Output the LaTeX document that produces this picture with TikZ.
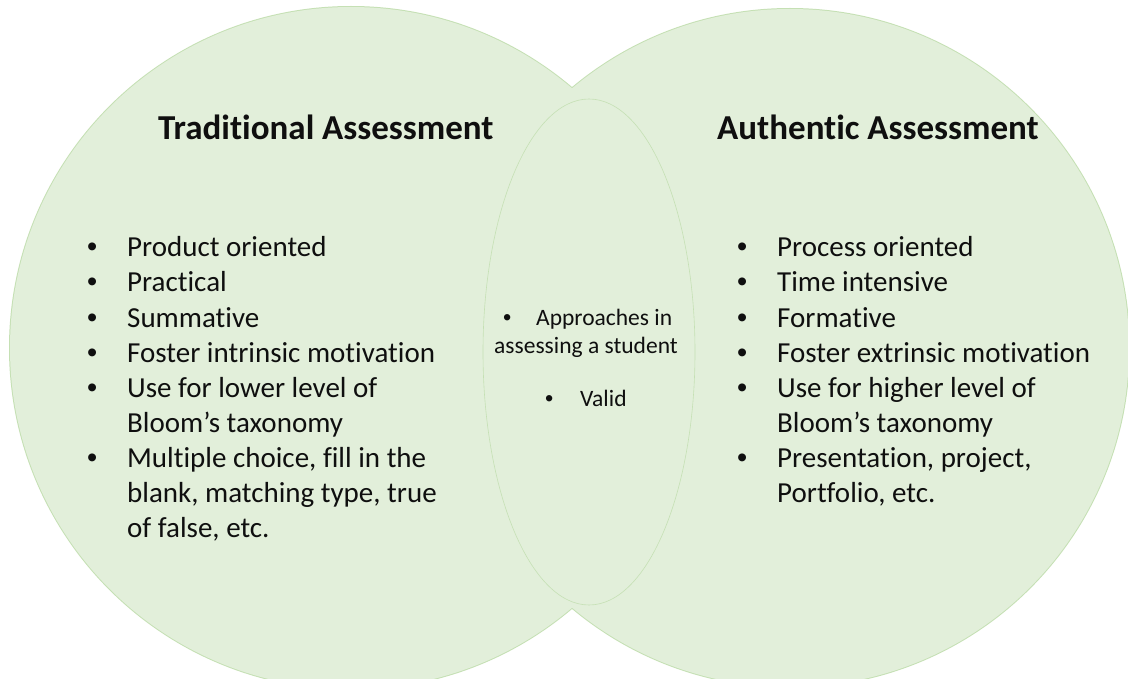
\documentclass[tikz,border=0pt]{standalone}
\usepackage{fontspec}
\setmainfont{Carlito}[Ligatures=NoCommon]
\newfontfamily\bulletfont{Liberation Sans}
\usetikzlibrary{shapes.geometric}
\definecolor{vfill}{RGB}{226,239,218}
\definecolor{vline}{RGB}{197,224,180}
\definecolor{vtext}{RGB}{15,15,15}
\tikzset{
  setborder/.style={draw=vline, line width=2pt},
  setfill/.style={fill=vfill},
  overlap/.style={draw=vline, line width=0.6pt, fill=vfill},
  titletext/.style={anchor=base west, inner sep=0pt, font=\fontsize{35}{42}\selectfont\bfseries, text=vtext},
  itemtext/.style={anchor=base west, inner sep=0pt, font=\fontsize{29}{35}\selectfont, text=vtext},
  bullettext/.style={anchor=base west, inner sep=0pt, font=\bulletfont\fontsize{29}{35}\selectfont, text=vtext},
  midtext/.style={anchor=base west, inner sep=0pt, font=\fontsize{23.5}{28}\selectfont, text=vtext},
  midbullet/.style={anchor=base west, inner sep=0pt, font=\bulletfont\fontsize{23.5}{28}\selectfont, text=vtext},
}
\begin{document}
\begin{tikzpicture}[x=1pt,y=-1pt]
\useasboundingbox (0,0) rectangle (1128,679);
\begin{scope}
\clip (0,0) rectangle (1128,679);
\fill[white] (0,0) rectangle (1128,679);
% outer borders first, then fills over them (hides inner arcs)
\draw[setborder] (351,348) circle[radius=341pt];
\draw[setborder] (790,348) circle[radius=339pt];
\node[setfill, circle, minimum size=682pt, inner sep=0pt] (left) at (351,348) {};
\node[setfill, circle, minimum size=678pt, inner sep=0pt] (right) at (790,348) {};
\node[overlap, ellipse, minimum width=212pt, minimum height=506pt, inner sep=0pt] (mid) at (589,352) {};
\end{scope}
% titles
\node[titletext] (t1) at (158,140) {Traditional Assessment};
\node[titletext] (t2) at (717,140) {Authentic Assessment};
% left list
\foreach \y/\b/\t [count=\i] in {257/1/Product oriented, 292/1/Practical, 327/1/Summative, 362/1/Foster intrinsic motivation, 397/1/Use for lower level of, 432/0/Bloom’s taxonomy, 467/1/{Multiple choice, fill in the}, 502/0/{blank, matching type, true}, 537/0/{of false, etc.}}{
  \node[itemtext] (l\i) at (127,\y) {\t};
  \ifnum\b=1 \node[bullettext] (lb\i) at (87,\y) {•}; \fi
}
% right list
\foreach \y/\b/\t [count=\i] in {257/1/Process oriented, 292/1/Time intensive, 327/1/Formative, 362/1/Foster extrinsic motivation, 397/1/Use for higher level of, 432/0/Bloom’s taxonomy, 467/1/{Presentation, project,}, 502/0/{Portfolio, etc.}}{
  \node[itemtext] (r\i) at (777,\y) {\t};
  \ifnum\b=1 \node[bullettext] (rb\i) at (737,\y) {•}; \fi
}
% middle
\node[midbullet] (mb1) at (503,326) {•};
\node[midtext] (m1) at (536,326) {Approaches in};
\node[midtext] (m2) at (494,353) {assessing a student};
\node[midbullet] (mb2) at (545,406) {•};
\node[midtext] (m3) at (580,406) {Valid};
\end{tikzpicture}
\end{document}
